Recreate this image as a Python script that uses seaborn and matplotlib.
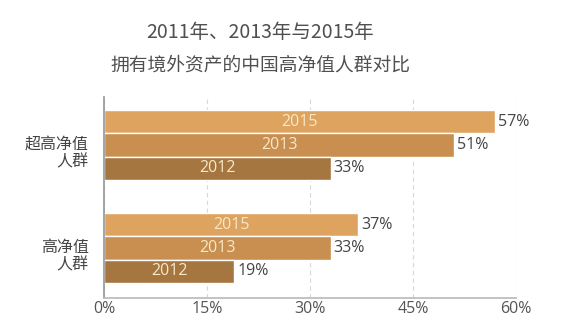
import matplotlib
matplotlib.use("Agg")
import matplotlib.pyplot as plt
import matplotlib.transforms as mtransforms
import seaborn as sns
import pandas as pd

groups = ["超高净值\n人群", "高净值\n人群"]
years = ["2015", "2013", "2012"]
vals_2015 = [57, 37]
vals_2013 = [51, 33]
vals_2012 = [33, 19]
xticks = [0, 15, 30, 45, 60]
title1 = "2011年、2013年与2015年"
title2 = "拥有境外资产的中国高净值人群对比"

rows = []
for y, vals in zip(years, [vals_2015, vals_2013, vals_2012]):
    for g, v in zip(groups, vals):
        rows.append({"group": g, "year": y, "value": v})
df = pd.DataFrame(rows)

sns.set_theme(style="white")
plt.rcParams["font.family"] = ["Noto Sans CJK SC", "DejaVu Sans"]
numfont = ["Open Sans", "DejaVu Sans"]

colors = {"2015": "#DEA35F", "2013": "#C98F50", "2012": "#A67640"}

fig = plt.figure(figsize=(5.88, 3.20), dpi=100)
ax = fig.add_axes([104 / 588, 1 - 298 / 320, (516 - 104) / 588, (298 - 97) / 320])

sns.barplot(data=df, y="group", x="value", hue="year", hue_order=years,
            order=groups, palette=colors, orient="h", width=0.68,
            saturation=1, ax=ax, legend=False)

for cont, y in zip(ax.containers, years):
    ax.bar_label(cont, labels=[y] * len(cont), label_type="center",
                 color="#F6E8C8", fontsize=11.5, family=numfont)
    ax.bar_label(cont, fmt="%d%%", padding=2, color="#454545", fontsize=11.5,
                 family=numfont)

ax.set_xlim(0, 60)
ax.set_ylim(1.485, -0.466)
ax.set_xticks(xticks)
ax.set_xticklabels([f"{t}%" for t in xticks])
for lab in ax.get_xticklabels():
    lab.set_fontsize(11.5)
    lab.set_color("#555555")
    lab.set_family(numfont)
ax.tick_params(axis="x", direction="in", length=4, color="#bbbbbb", pad=2)
ax.tick_params(axis="y", length=0, pad=11)
offset = mtransforms.ScaledTranslation(0, -6 / 100, fig.dpi_scale_trans)
for lab in ax.get_yticklabels():
    lab.set_fontsize(11.5)
    lab.set_color("#444444")
    lab.set_linespacing(1.0)
    lab.set_horizontalalignment("right")
    lab.set_transform(lab.get_transform() + offset)
ax.set_xlabel("")
ax.set_ylabel("")
ax.grid(axis="x", linestyle=(0, (4, 3)), color="#d8d8d8", linewidth=0.8)
ax.set_axisbelow(True)
for s in ["top", "right"]:
    ax.spines[s].set_visible(False)
ax.spines["left"].set_color("#999999")
ax.spines["bottom"].set_color("#bbbbbb")

fig.text(260 / 588, 1 - 33 / 320, title1, ha="center", va="center",
         fontsize=14, color="#505050")
fig.text(260 / 588, 1 - 65 / 320, title2, ha="center", va="center",
         fontsize=13.5, color="#505050")

fig.savefig("out.png", dpi=100)
